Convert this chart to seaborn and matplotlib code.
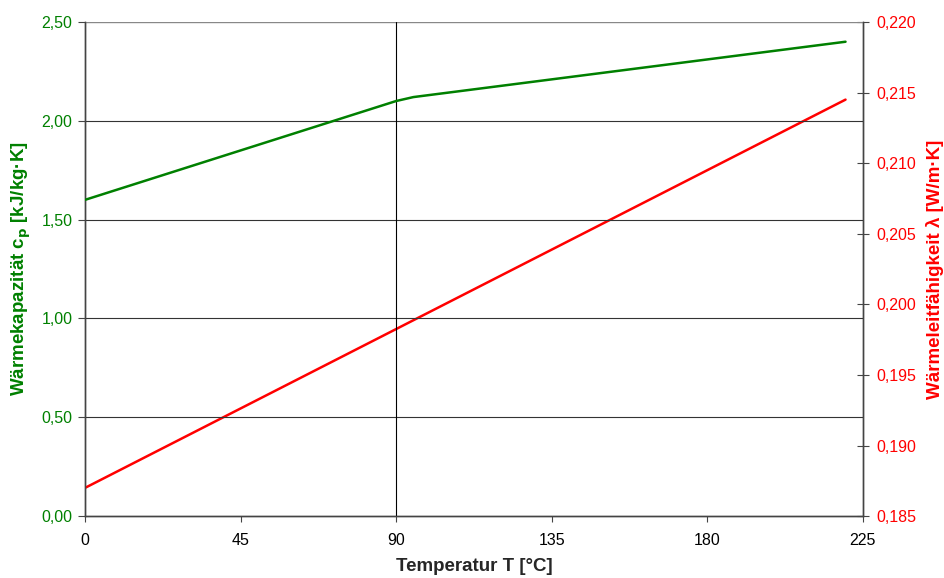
import numpy as np
import matplotlib
matplotlib.use('Agg')
import matplotlib.pyplot as plt
from matplotlib.ticker import FuncFormatter
import pandas as pd
import seaborn as sns

# values
temp_cp = [0, 90, 95, 220]
cp = [1.60, 2.10, 2.12, 2.40]          # kJ/kg K
temp_lam = [0, 90, 220]
lam = [0.187, 0.19825, 0.2145]         # W/m K

x_ticks = [0, 45, 90, 135, 180, 225]
cp_ticks = [0.0, 0.5, 1.0, 1.5, 2.0, 2.5]
lam_ticks = [0.185, 0.190, 0.195, 0.200, 0.205, 0.210, 0.215, 0.220]

green = '#008000'
red = '#ff0000'

sns.set_style('white')
plt.rcParams['font.family'] = ['Liberation Sans', 'DejaVu Sans']

df_cp = pd.DataFrame({'T': temp_cp, 'cp': cp})
df_lam = pd.DataFrame({'T': temp_lam, 'lam': lam})

fig = plt.figure(figsize=(9.44, 5.78), dpi=100)
ax = fig.add_axes([0.090, 0.107, 0.824, 0.855])
ax2 = ax.twinx()

sns.lineplot(data=df_cp, x='T', y='cp', ax=ax, color=green, linewidth=1.8, zorder=3)
sns.lineplot(data=df_lam, x='T', y='lam', ax=ax2, color=red, linewidth=1.8, zorder=3)

ax.set_xlim(0, 225)
ax.set_ylim(0, 2.5)
ax2.set_ylim(0.185, 0.220)
ax.set_xticks(x_ticks)
ax.set_yticks(cp_ticks)
ax2.set_yticks(lam_ticks)

ax.yaxis.set_major_formatter(FuncFormatter(lambda v, p: f'{v:.2f}'.replace('.', ',')))
ax2.yaxis.set_major_formatter(FuncFormatter(lambda v, p: f'{v:.3f}'.replace('.', ',')))

# grid: horizontal lines at left ticks, one vertical line at 90
for v in cp_ticks[1:-1]:
    ax.axhline(v, color='#333333', linewidth=0.8, zorder=1)
ax.axhline(2.5, color='#888888', linewidth=1.0, zorder=1)
ax.axvline(90, color='black', linewidth=0.8, zorder=1)

for a in (ax, ax2):
    for s in a.spines.values():
        s.set_color('#444444')
        s.set_linewidth(1.0)
    a.spines['top'].set_visible(False)

ax.tick_params(axis='x', direction='out', length=4, width=0.8, color='#444444',
               labelsize=11.5, labelcolor='black', pad=8, bottom=True)
ax.tick_params(axis='y', direction='out', length=5, width=0.8, color='#444444',
               labelsize=11.5, labelcolor=green, pad=4, left=True)
ax2.tick_params(axis='y', direction='inout', length=8, width=0.8, color='#444444',
                labelsize=11.5, labelcolor=red, pad=6, right=True)

ax.set_xlabel('Temperatur T [°C]', fontsize=13.5, fontweight='bold', labelpad=7)
ax.set_ylabel(r'Wärmekapazität c$_\mathbf{p}$ [kJ/kg·K]', fontsize=13.5,
              fontweight='bold', color=green, labelpad=6)
ax2.set_ylabel('Wärmeleitfähigkeit λ [W/m·K]', fontsize=13.5, fontweight='bold',
               color=red, rotation=90, labelpad=7)

ax.set_zorder(ax2.get_zorder() + 1)
ax.patch.set_visible(False)

fig.savefig('out.png', dpi=100)
